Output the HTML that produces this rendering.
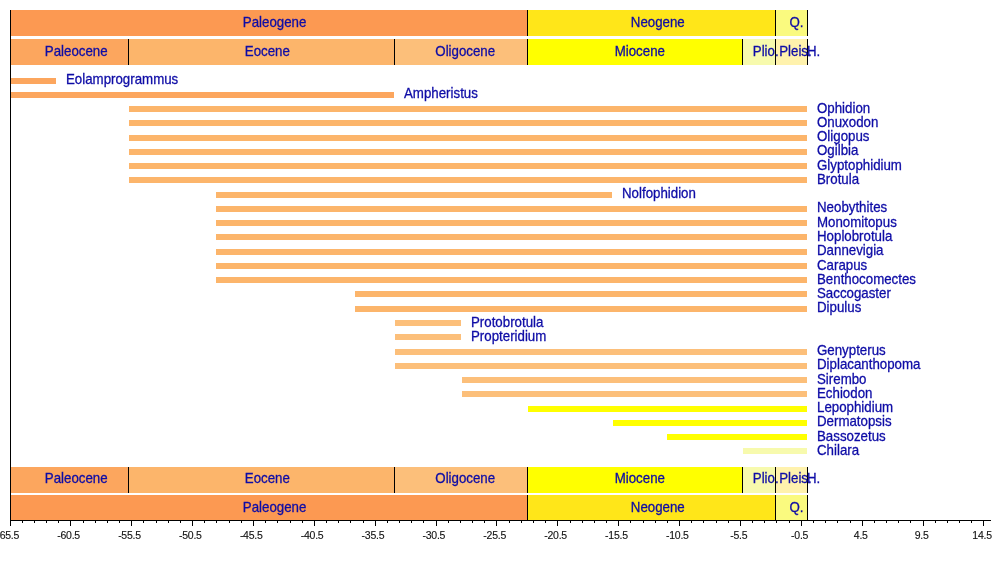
<!DOCTYPE html>
<html><head><meta charset="utf-8"><style>
html,body{margin:0;padding:0;background:#fff;}
svg{display:block;}
text{will-change:transform;}
.t{font-family:"Liberation Sans",sans-serif;font-size:13.3px;fill:#0e0ca6;stroke:#0e0ca6;stroke-width:0.28px;}
.a{font-family:"Liberation Sans",sans-serif;font-size:10.5px;fill:#111;letter-spacing:-0.25px;stroke:#111;stroke-width:0.12px;}
</style></head><body>
<svg width="1000" height="570" viewBox="0 0 1000 570" shape-rendering="crispEdges">
<rect x="0" y="0" width="1000" height="570" fill="#fff"/>
<rect x="10" y="10" width="517" height="26" fill="#FC9952"/>
<rect x="527" y="10" width="248" height="26" fill="#FFE619"/>
<rect x="775" y="10" width="32" height="26" fill="#FAFA7F"/>
<rect x="527" y="10" width="1" height="26" fill="#000"/>
<rect x="775" y="10" width="1" height="26" fill="#000"/>
<rect x="807" y="10" width="1" height="26" fill="#000"/>
<text transform="translate(242.8,27) scale(1,1.05)" class="t">Paleogene</text>
<text transform="translate(630.8,27) scale(1,1.05)" class="t">Neogene</text>
<text transform="translate(789.4,27) scale(1,1.05)" class="t">Q.</text>
<rect x="10" y="39" width="118" height="26" fill="#FCA65E"/>
<rect x="128" y="39" width="266" height="26" fill="#FCB56B"/>
<rect x="394" y="39" width="133" height="26" fill="#FCBF7A"/>
<rect x="527" y="39" width="215" height="26" fill="#FFFF00"/>
<rect x="742" y="39" width="33" height="26" fill="#F7FAAD"/>
<rect x="775" y="39" width="32" height="26" fill="#FFF2AD"/>
<rect x="128" y="39" width="1" height="26" fill="#000"/>
<rect x="394" y="39" width="1" height="26" fill="#000"/>
<rect x="527" y="39" width="1" height="26" fill="#000"/>
<rect x="742" y="39" width="1" height="26" fill="#000"/>
<rect x="775" y="39" width="1" height="26" fill="#000"/>
<rect x="807" y="39" width="1" height="26" fill="#000"/>
<rect x="807" y="39" width="1" height="26" fill="#000"/>
<text transform="translate(44.8,56) scale(1,1.05)" class="t">Paleocene</text>
<text transform="translate(244.8,56) scale(1,1.05)" class="t">Eocene</text>
<text transform="translate(435.3,56) scale(1,1.05)" class="t">Oligocene</text>
<text transform="translate(614.7,56) scale(1,1.05)" class="t">Miocene</text>
<text transform="translate(752.8,56) scale(1,1.05)" class="t">Plio.</text>
<text transform="translate(779.2,56) scale(1,1.05)" class="t">Pleis.</text>
<text transform="translate(807.0,56) scale(1,1.05)" class="t">H.</text>
<rect x="10" y="467" width="118" height="26" fill="#FCA65E"/>
<rect x="128" y="467" width="266" height="26" fill="#FCB56B"/>
<rect x="394" y="467" width="133" height="26" fill="#FCBF7A"/>
<rect x="527" y="467" width="215" height="26" fill="#FFFF00"/>
<rect x="742" y="467" width="33" height="26" fill="#F7FAAD"/>
<rect x="775" y="467" width="32" height="26" fill="#FFF2AD"/>
<rect x="128" y="467" width="1" height="26" fill="#000"/>
<rect x="394" y="467" width="1" height="26" fill="#000"/>
<rect x="527" y="467" width="1" height="26" fill="#000"/>
<rect x="742" y="467" width="1" height="26" fill="#000"/>
<rect x="775" y="467" width="1" height="26" fill="#000"/>
<rect x="807" y="467" width="1" height="26" fill="#000"/>
<rect x="807" y="467" width="1" height="26" fill="#000"/>
<text transform="translate(44.8,483) scale(1,1.05)" class="t">Paleocene</text>
<text transform="translate(244.8,483) scale(1,1.05)" class="t">Eocene</text>
<text transform="translate(435.3,483) scale(1,1.05)" class="t">Oligocene</text>
<text transform="translate(614.7,483) scale(1,1.05)" class="t">Miocene</text>
<text transform="translate(752.8,483) scale(1,1.05)" class="t">Plio.</text>
<text transform="translate(779.2,483) scale(1,1.05)" class="t">Pleis.</text>
<text transform="translate(807.0,483) scale(1,1.05)" class="t">H.</text>
<rect x="10" y="495" width="517" height="25" fill="#FC9952"/>
<rect x="527" y="495" width="248" height="25" fill="#FFE619"/>
<rect x="775" y="495" width="32" height="25" fill="#FAFA7F"/>
<rect x="527" y="495" width="1" height="25" fill="#000"/>
<rect x="775" y="495" width="1" height="25" fill="#000"/>
<rect x="807" y="495" width="1" height="25" fill="#000"/>
<text transform="translate(242.8,512) scale(1,1.05)" class="t">Paleogene</text>
<text transform="translate(630.8,512) scale(1,1.05)" class="t">Neogene</text>
<text transform="translate(789.4,512) scale(1,1.05)" class="t">Q.</text>
<rect x="11" y="78" width="45" height="6" fill="#FCA65E"/>
<text transform="translate(66,84) scale(1,1.05)" class="t">Eolamprogrammus</text>
<rect x="11" y="92" width="383" height="6" fill="#FCA65E"/>
<text transform="translate(404,98) scale(1,1.05)" class="t">Ampheristus</text>
<rect x="129" y="106" width="678" height="6" fill="#FCB56B"/>
<text transform="translate(817,113) scale(1,1.05)" class="t">Ophidion</text>
<rect x="129" y="120" width="678" height="6" fill="#FCB56B"/>
<text transform="translate(817,127) scale(1,1.05)" class="t">Onuxodon</text>
<rect x="129" y="135" width="678" height="6" fill="#FCB56B"/>
<text transform="translate(817,141) scale(1,1.05)" class="t">Oligopus</text>
<rect x="129" y="149" width="678" height="6" fill="#FCB56B"/>
<text transform="translate(817,155) scale(1,1.05)" class="t">Ogilbia</text>
<rect x="129" y="163" width="678" height="6" fill="#FCB56B"/>
<text transform="translate(817,170) scale(1,1.05)" class="t">Glyptophidium</text>
<rect x="129" y="177" width="678" height="6" fill="#FCB56B"/>
<text transform="translate(817,184) scale(1,1.05)" class="t">Brotula</text>
<rect x="216" y="192" width="396" height="6" fill="#FCB56B"/>
<text transform="translate(622,198) scale(1,1.05)" class="t">Nolfophidion</text>
<rect x="216" y="206" width="591" height="6" fill="#FCB56B"/>
<text transform="translate(817,212) scale(1,1.05)" class="t">Neobythites</text>
<rect x="216" y="220" width="591" height="6" fill="#FCB56B"/>
<text transform="translate(817,227) scale(1,1.05)" class="t">Monomitopus</text>
<rect x="216" y="234" width="591" height="6" fill="#FCB56B"/>
<text transform="translate(817,241) scale(1,1.05)" class="t">Hoplobrotula</text>
<rect x="216" y="249" width="591" height="6" fill="#FCB56B"/>
<text transform="translate(817,255) scale(1,1.05)" class="t">Dannevigia</text>
<rect x="216" y="263" width="591" height="6" fill="#FCB56B"/>
<text transform="translate(817,270) scale(1,1.05)" class="t">Carapus</text>
<rect x="216" y="277" width="591" height="6" fill="#FCB56B"/>
<text transform="translate(817,284) scale(1,1.05)" class="t">Benthocomectes</text>
<rect x="355" y="291" width="452" height="6" fill="#FCB56B"/>
<text transform="translate(817,298) scale(1,1.05)" class="t">Saccogaster</text>
<rect x="355" y="306" width="452" height="6" fill="#FCB56B"/>
<text transform="translate(817,312) scale(1,1.05)" class="t">Dipulus</text>
<rect x="395" y="320" width="66" height="6" fill="#FCBF7A"/>
<text transform="translate(471,327) scale(1,1.05)" class="t">Protobrotula</text>
<rect x="395" y="334" width="66" height="6" fill="#FCBF7A"/>
<text transform="translate(471,341) scale(1,1.05)" class="t">Propteridium</text>
<rect x="395" y="349" width="412" height="6" fill="#FCBF7A"/>
<text transform="translate(817,355) scale(1,1.05)" class="t">Genypterus</text>
<rect x="395" y="363" width="412" height="6" fill="#FCBF7A"/>
<text transform="translate(817,369) scale(1,1.05)" class="t">Diplacanthopoma</text>
<rect x="462" y="377" width="345" height="6" fill="#FCBF7A"/>
<text transform="translate(817,384) scale(1,1.05)" class="t">Sirembo</text>
<rect x="462" y="391" width="345" height="6" fill="#FCBF7A"/>
<text transform="translate(817,398) scale(1,1.05)" class="t">Echiodon</text>
<rect x="528" y="406" width="279" height="6" fill="#FFFF00"/>
<text transform="translate(817,412) scale(1,1.05)" class="t">Lepophidium</text>
<rect x="613" y="420" width="194" height="6" fill="#FFFF00"/>
<text transform="translate(817,426) scale(1,1.05)" class="t">Dermatopsis</text>
<rect x="667" y="434" width="140" height="6" fill="#FFFF00"/>
<text transform="translate(817,441) scale(1,1.05)" class="t">Bassozetus</text>
<rect x="743" y="448" width="64" height="6" fill="#F7FAAD"/>
<text transform="translate(817,455) scale(1,1.05)" class="t">Chilara</text>
<rect x="10" y="10" width="1" height="511" fill="#000"/>
<rect x="10" y="520" width="981" height="1" fill="#000"/>
<rect x="10" y="521" width="1" height="5" fill="#000"/>
<rect x="22" y="521" width="1" height="2" fill="#000"/>
<rect x="34" y="521" width="1" height="2" fill="#000"/>
<rect x="46" y="521" width="1" height="2" fill="#000"/>
<rect x="58" y="521" width="1" height="2" fill="#000"/>
<rect x="70" y="521" width="1" height="5" fill="#000"/>
<rect x="83" y="521" width="1" height="2" fill="#000"/>
<rect x="95" y="521" width="1" height="2" fill="#000"/>
<rect x="107" y="521" width="1" height="2" fill="#000"/>
<rect x="119" y="521" width="1" height="2" fill="#000"/>
<rect x="131" y="521" width="1" height="5" fill="#000"/>
<rect x="143" y="521" width="1" height="2" fill="#000"/>
<rect x="156" y="521" width="1" height="2" fill="#000"/>
<rect x="168" y="521" width="1" height="2" fill="#000"/>
<rect x="180" y="521" width="1" height="2" fill="#000"/>
<rect x="192" y="521" width="1" height="5" fill="#000"/>
<rect x="204" y="521" width="1" height="2" fill="#000"/>
<rect x="216" y="521" width="1" height="2" fill="#000"/>
<rect x="229" y="521" width="1" height="2" fill="#000"/>
<rect x="241" y="521" width="1" height="2" fill="#000"/>
<rect x="253" y="521" width="1" height="5" fill="#000"/>
<rect x="265" y="521" width="1" height="2" fill="#000"/>
<rect x="277" y="521" width="1" height="2" fill="#000"/>
<rect x="290" y="521" width="1" height="2" fill="#000"/>
<rect x="302" y="521" width="1" height="2" fill="#000"/>
<rect x="314" y="521" width="1" height="5" fill="#000"/>
<rect x="326" y="521" width="1" height="2" fill="#000"/>
<rect x="338" y="521" width="1" height="2" fill="#000"/>
<rect x="350" y="521" width="1" height="2" fill="#000"/>
<rect x="363" y="521" width="1" height="2" fill="#000"/>
<rect x="375" y="521" width="1" height="5" fill="#000"/>
<rect x="387" y="521" width="1" height="2" fill="#000"/>
<rect x="399" y="521" width="1" height="2" fill="#000"/>
<rect x="411" y="521" width="1" height="2" fill="#000"/>
<rect x="423" y="521" width="1" height="2" fill="#000"/>
<rect x="436" y="521" width="1" height="5" fill="#000"/>
<rect x="448" y="521" width="1" height="2" fill="#000"/>
<rect x="460" y="521" width="1" height="2" fill="#000"/>
<rect x="472" y="521" width="1" height="2" fill="#000"/>
<rect x="484" y="521" width="1" height="2" fill="#000"/>
<rect x="496" y="521" width="1" height="5" fill="#000"/>
<rect x="509" y="521" width="1" height="2" fill="#000"/>
<rect x="521" y="521" width="1" height="2" fill="#000"/>
<rect x="533" y="521" width="1" height="2" fill="#000"/>
<rect x="545" y="521" width="1" height="2" fill="#000"/>
<rect x="557" y="521" width="1" height="5" fill="#000"/>
<rect x="570" y="521" width="1" height="2" fill="#000"/>
<rect x="582" y="521" width="1" height="2" fill="#000"/>
<rect x="594" y="521" width="1" height="2" fill="#000"/>
<rect x="606" y="521" width="1" height="2" fill="#000"/>
<rect x="618" y="521" width="1" height="5" fill="#000"/>
<rect x="630" y="521" width="1" height="2" fill="#000"/>
<rect x="643" y="521" width="1" height="2" fill="#000"/>
<rect x="655" y="521" width="1" height="2" fill="#000"/>
<rect x="667" y="521" width="1" height="2" fill="#000"/>
<rect x="679" y="521" width="1" height="5" fill="#000"/>
<rect x="691" y="521" width="1" height="2" fill="#000"/>
<rect x="703" y="521" width="1" height="2" fill="#000"/>
<rect x="716" y="521" width="1" height="2" fill="#000"/>
<rect x="728" y="521" width="1" height="2" fill="#000"/>
<rect x="740" y="521" width="1" height="5" fill="#000"/>
<rect x="752" y="521" width="1" height="2" fill="#000"/>
<rect x="764" y="521" width="1" height="2" fill="#000"/>
<rect x="776" y="521" width="1" height="2" fill="#000"/>
<rect x="789" y="521" width="1" height="2" fill="#000"/>
<rect x="801" y="521" width="1" height="5" fill="#000"/>
<rect x="813" y="521" width="1" height="2" fill="#000"/>
<rect x="825" y="521" width="1" height="2" fill="#000"/>
<rect x="837" y="521" width="1" height="2" fill="#000"/>
<rect x="850" y="521" width="1" height="2" fill="#000"/>
<rect x="862" y="521" width="1" height="5" fill="#000"/>
<rect x="874" y="521" width="1" height="2" fill="#000"/>
<rect x="886" y="521" width="1" height="2" fill="#000"/>
<rect x="898" y="521" width="1" height="2" fill="#000"/>
<rect x="910" y="521" width="1" height="2" fill="#000"/>
<rect x="923" y="521" width="1" height="5" fill="#000"/>
<rect x="935" y="521" width="1" height="2" fill="#000"/>
<rect x="947" y="521" width="1" height="2" fill="#000"/>
<rect x="959" y="521" width="1" height="2" fill="#000"/>
<rect x="971" y="521" width="1" height="2" fill="#000"/>
<rect x="983" y="521" width="1" height="5" fill="#000"/>
<text x="-3.60" y="539" class="a">-65.5</text>
<text x="57.27" y="539" class="a">-60.5</text>
<text x="118.14" y="539" class="a">-55.5</text>
<text x="179.01" y="539" class="a">-50.5</text>
<text x="239.88" y="539" class="a">-45.5</text>
<text x="300.75" y="539" class="a">-40.5</text>
<text x="361.62" y="539" class="a">-35.5</text>
<text x="422.49" y="539" class="a">-30.5</text>
<text x="483.36" y="539" class="a">-25.5</text>
<text x="544.23" y="539" class="a">-20.5</text>
<text x="605.10" y="539" class="a">-15.5</text>
<text x="665.97" y="539" class="a">-10.5</text>
<text x="730.23" y="539" class="a">-5.5</text>
<text x="791.10" y="539" class="a">-0.5</text>
<text x="853.87" y="539" class="a">4.5</text>
<text x="914.74" y="539" class="a">9.5</text>
<text x="972.31" y="539" class="a">14.5</text>
</svg>
</body></html>
